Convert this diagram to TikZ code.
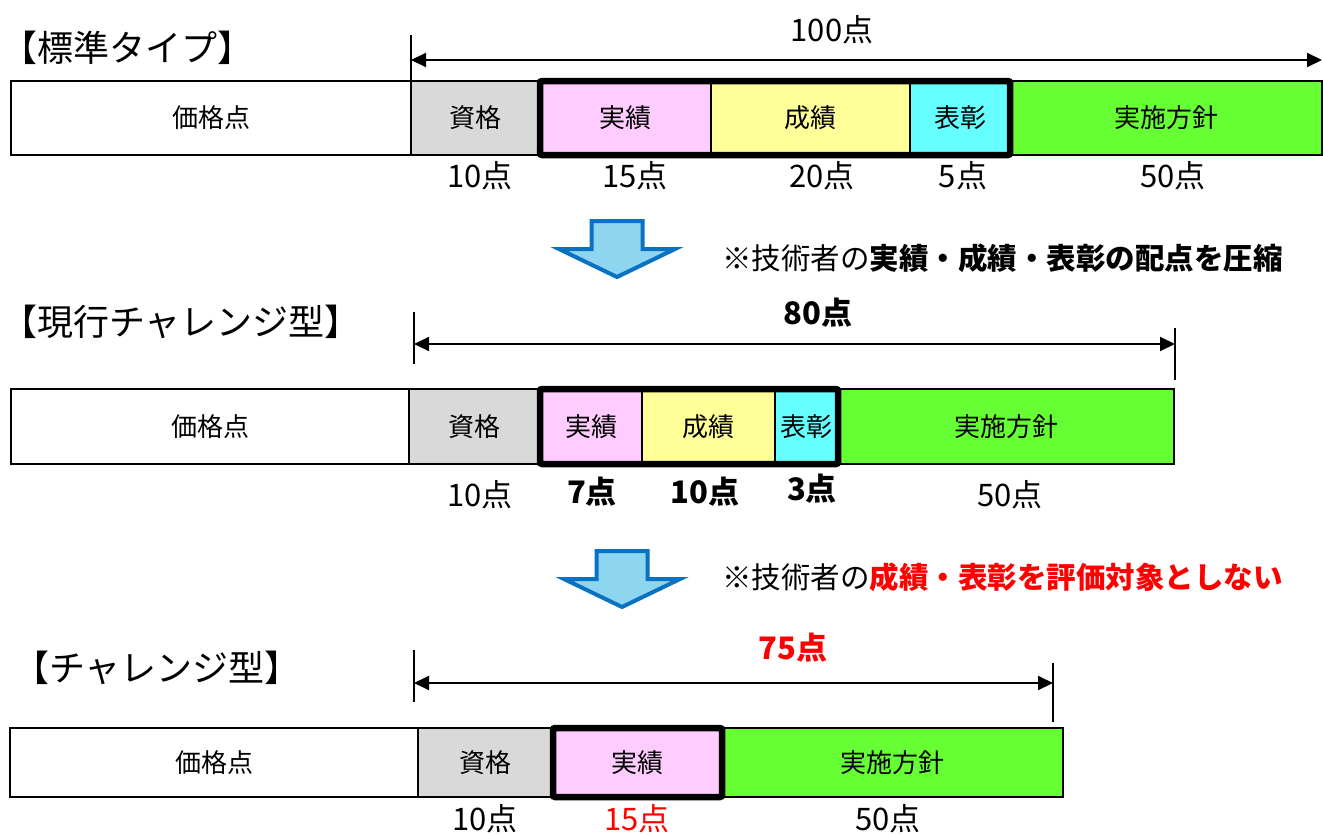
\documentclass[tikz,border=0pt]{standalone}
\usepackage{fontspec}
\setmainfont{Noto Sans CJK JP}
\usetikzlibrary{arrows.meta}
\definecolor{cGray}{HTML}{D9D9D9}
\definecolor{cPink}{HTML}{FFCCFF}
\definecolor{cYellow}{HTML}{FFFF99}
\definecolor{cCyan}{HTML}{66FFFF}
\definecolor{cGreen}{HTML}{66FF33}
\definecolor{cArrowFill}{HTML}{8ED6F0}
\definecolor{cArrowLine}{HTML}{0A72C2}
\definecolor{cRed}{HTML}{FF0000}
\tikzset{
  segbox/.style={draw=black, line width=2.5pt, inner sep=0pt, outer sep=0pt,
    font=\fontsize{26pt}{29pt}\selectfont},
  thickbox/.style={draw=black, line width=6.5pt, rounded corners=2pt},
  lbl/.style={inner sep=0pt, font=\fontsize{31pt}{35pt}\selectfont},
  lblb/.style={lbl, font=\fontsize{31pt}{35pt}\selectfont\bfseries},
  ttl/.style={anchor=west, inner sep=0pt, font=\fontsize{36pt}{40pt}\selectfont},
  note/.style={anchor=west, inner sep=0pt, font=\fontsize{29.5pt}{33pt}\selectfont},
  dimline/.style={line width=2pt, {Triangle[length=15pt,width=14pt]}-{Triangle[length=15pt,width=14pt]}},
  tick/.style={line width=1.6pt},
  blockarrow/.style={draw=cArrowLine, fill=cArrowFill, line width=4pt, line join=miter},
}
\newcommand\barseg[7]{%
  \node[segbox, fill=#6, minimum width={#3pt-#2pt}, minimum height={#5pt-#4pt}]
    (#1) at ({(#2+#3)/2},{(#4+#5)/2}) {#7};}
\begin{document}
\begin{tikzpicture}[x=1pt,y=-1pt]
\useasboundingbox (0,0) rectangle (1323,835);

% ---------- Row 1 ----------
\node[ttl] (t1) at (1,48) {【標準タイプ】};
\coordinate (d1a) at (411,35); \coordinate (d1b) at (411,80);
\coordinate (d1l) at (411,60); \coordinate (d1r) at (1322,60);
\draw[tick] (d1a) -- (d1b);
\draw[dimline] (d1l) -- (d1r);
\node[lbl] (n1) at (832,30) {100点};

\barseg{r1a}{11}{411}{81}{155}{white}{価格点}
\barseg{r1b}{411}{540}{81}{155}{cGray}{資格}
\barseg{r1c}{540}{711}{81}{155}{cPink}{実績}
\barseg{r1d}{711}{910}{81}{155}{cYellow}{成績}
\barseg{r1e}{910}{1010}{81}{155}{cCyan}{表彰}
\barseg{r1f}{1010}{1322}{81}{155}{cGreen}{実施方針}
\draw[thickbox] (r1c.north west) rectangle (r1e.south east);

\node[lbl] (p1b) at (480,176) {10点};
\node[lbl] (p1c) at (635,176) {15点};
\node[lbl] (p1d) at (822,176) {20点};
\node[lbl] (p1e) at (963,176) {5点};
\node[lbl] (p1f) at (1173,176) {50点};

% arrow 1
\draw[blockarrow] (591.5,221) -- (642.5,221) -- (642.5,249) -- (675,249)
  -- (617,277) -- (559,249) -- (591.5,249) -- cycle;
\node[note] (m1) at (722,258) {※技術者の\bfseries 実績・成績・表彰の配点を圧縮};

% ---------- Row 2 ----------
\node[ttl] (t2) at (1,322) {【現行チャレンジ型】};
\coordinate (d2a) at (414,312); \coordinate (d2b) at (414,364);
\coordinate (d2c) at (1175,328); \coordinate (d2d) at (1175,380);
\coordinate (d2l) at (414,344); \coordinate (d2r) at (1175,344);
\draw[tick] (d2a) -- (d2b);
\draw[tick] (d2c) -- (d2d);
\draw[dimline] (d2l) -- (d2r);
\node[lblb] (n2) at (818,313) {80点};

\barseg{r2a}{11}{409}{389}{464}{white}{価格点}
\barseg{r2b}{409}{540}{389}{464}{cGray}{資格}
\barseg{r2c}{540}{642}{389}{464}{cPink}{実績}
\barseg{r2d}{642}{775}{389}{464}{cYellow}{成績}
\barseg{r2e}{775}{838}{389}{464}{cCyan}{表彰}
\barseg{r2f}{838}{1174}{389}{464}{cGreen}{実施方針}
\draw[thickbox] (r2c.north west) rectangle (r2e.south east);

\node[lbl] (p2b) at (480,495) {10点};
\node[lblb] (p2c) at (592,492) {7点};
\node[lblb] (p2d) at (705,492) {10点};
\node[lblb] (p2e) at (812,489) {3点};
\node[lbl] (p2f) at (1010,495) {50点};

% arrow 2
\draw[blockarrow] (596.5,551) -- (647.5,551) -- (647.5,579) -- (680,579)
  -- (622,607) -- (564,579) -- (596.5,579) -- cycle;
\node[note] (m2) at (722,577) {※技術者の{\bfseries\color{cRed}成績・表彰を評価対象としない}};

% ---------- Row 3 ----------
\node[ttl] (t3) at (13,668) {【チャレンジ型】};
\coordinate (d3a) at (414,650); \coordinate (d3b) at (414,702);
\coordinate (d3c) at (1053,663); \coordinate (d3d) at (1053,722);
\coordinate (d3l) at (414,683); \coordinate (d3r) at (1053,683);
\draw[tick] (d3a) -- (d3b);
\draw[tick] (d3c) -- (d3d);
\draw[dimline] (d3l) -- (d3r);
\node[lblb, text=cRed] (n3) at (793,648) {75点};

\barseg{r3a}{10}{418}{728}{797}{white}{価格点}
\barseg{r3b}{418}{553}{728}{797}{cGray}{資格}
\barseg{r3c}{553}{722}{728}{797}{cPink}{実績}
\barseg{r3d}{722}{1063}{728}{797}{cGreen}{実施方針}
\draw[thickbox] (r3c.north west) rectangle (r3c.south east);

\node[lbl] (p3b) at (485,819) {10点};
\node[lbl, text=cRed] (p3c) at (637,819) {15点};
\node[lbl] (p3d) at (888,819) {50点};
\end{tikzpicture}
\end{document}
